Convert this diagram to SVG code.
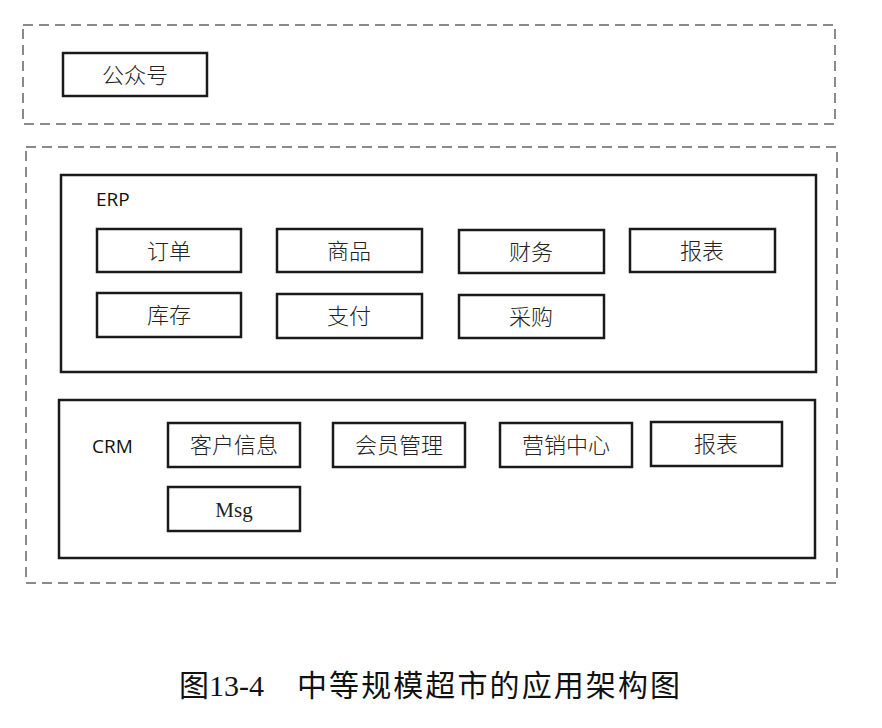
<svg xmlns="http://www.w3.org/2000/svg" width="882" height="728" viewBox="0 0 882 728">
<style>
.dash{fill:none;stroke:#8a8a8a;stroke-width:2;stroke-dasharray:10 6}
.box{fill:none;stroke:#1a1a1a;stroke-width:2.5}
.cn{font-family:"Noto Sans CJK SC",sans-serif;font-size:22px;fill:#222;text-anchor:middle;font-weight:300}
.lab{font-family:"Open Sans","Liberation Sans",sans-serif;font-size:19px;fill:#111}
.msg{font-family:"Liberation Serif",serif;font-size:21px;fill:#222;text-anchor:middle}
.cap{font-family:"Liberation Serif","Noto Sans CJK SC",serif;font-size:30px;fill:#111}
</style>
<rect width="882" height="728" fill="#fff"/>
<g id="layer-top">
<rect class="dash" x="23" y="25" width="812" height="99"/>
</g>
<g id="gzh"><rect class="box" x="63" y="53" width="144" height="43"/><text class="cn" x="135" y="83">公众号</text></g>
<g id="layer-main">
<rect class="dash" x="26" y="147" width="811" height="436"/>
</g>
<g id="erp">
<rect class="box" x="61" y="175" width="755" height="197"/>
<text class="lab" x="96" y="206">ERP</text>
</g>
<g id="erp-order"><rect class="box" x="97" y="229" width="144" height="43"/><text class="cn" x="169" y="259">订单</text></g>
<g id="erp-goods"><rect class="box" x="277" y="229" width="145" height="43"/><text class="cn" x="349" y="259">商品</text></g>
<g id="erp-finance"><rect class="box" x="459" y="230" width="145" height="43"/><text class="cn" x="531" y="260">财务</text></g>
<g id="erp-report"><rect class="box" x="630" y="229" width="145" height="43"/><text class="cn" x="702" y="259">报表</text></g>
<g id="erp-stock"><rect class="box" x="97" y="293" width="144" height="44"/><text class="cn" x="169" y="323">库存</text></g>
<g id="erp-pay"><rect class="box" x="277" y="294" width="145" height="44"/><text class="cn" x="349" y="324">支付</text></g>
<g id="erp-purchase"><rect class="box" x="459" y="295" width="145" height="43"/><text class="cn" x="531" y="325">采购</text></g>
<g id="crm">
<rect class="box" x="59" y="400" width="756" height="158"/>
<text class="lab" x="92" y="453">CRM</text>
</g>
<g id="crm-customer"><rect class="box" x="168" y="423" width="132" height="44"/><text class="cn" x="234" y="453">客户信息</text></g>
<g id="crm-member"><rect class="box" x="333" y="423" width="132" height="44"/><text class="cn" x="399" y="453">会员管理</text></g>
<g id="crm-marketing"><rect class="box" x="500" y="423" width="132" height="44"/><text class="cn" x="566" y="453">营销中心</text></g>
<g id="crm-report"><rect class="box" x="651" y="422" width="131" height="44"/><text class="cn" x="716" y="452">报表</text></g>
<g id="crm-msg"><rect class="box" x="168" y="487" width="132" height="44"/><text class="msg" x="234" y="517">Msg</text></g>
<g id="connectors"></g>
<g id="caption">
<text class="cap" x="179" y="696">图13-4</text>
<text class="cap" x="297" y="696" textLength="383">中等规模超市的应用架构图</text>
</g>
</svg>
